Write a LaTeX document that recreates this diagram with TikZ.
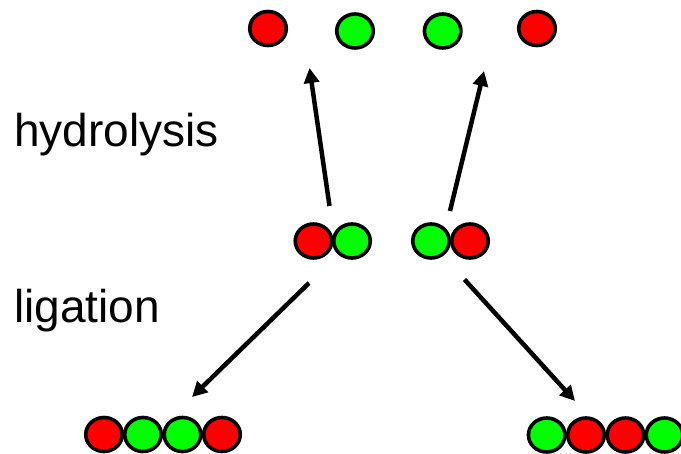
\documentclass[tikz,border=0pt]{standalone}
\usepackage{fontspec}
\setmainfont{Liberation Sans}
\usetikzlibrary{arrows.meta}
\definecolor{bead red}{RGB}{255,0,0}
\definecolor{bead green}{RGB}{0,255,0}
\tikzset{
  bead/.style={ellipse, draw=black, line width=3.6pt, minimum width=36.5pt, minimum height=34pt, inner sep=0pt},
  redbead/.style={bead, fill=bead red},
  greenbead/.style={bead, fill=bead green},
  flow/.style={line width=4.5pt, -{Triangle[length=15pt,width=15pt]}},
  label/.style={font=\fontsize{46}{50}\selectfont, anchor=base west, inner sep=0pt}
}
\usetikzlibrary{shapes.geometric}
\begin{document}
\begin{tikzpicture}[x=1pt,y=-1pt]
\useasboundingbox (0,0) rectangle (681,454);

% monomers
\node[redbead]   (m1) at (268,28.5) {};
\node[greenbead] (m2) at (355,31) {};
\node[greenbead] (m3) at (442.7,31) {};
\node[redbead]   (m4) at (537,28.5) {};

% dimers
\node[redbead]   (d1) at (313.5,241) {};
\node[greenbead] (d2) at (352,241) {};
\node[greenbead] (d3) at (431,241) {};
\node[redbead]   (d4) at (470,241) {};

% tetramers
\node[redbead]   (a1) at (104,434.5) {};
\node[greenbead] (a2) at (143,434.5) {};
\node[greenbead] (a3) at (182.5,434.5) {};
\node[redbead]   (a4) at (222,434.5) {};

\node[greenbead] (b1) at (546.7,435) {};
\node[redbead]   (b2) at (586,435) {};
\node[redbead]   (b3) at (625.5,435) {};
\node[greenbead] (b4) at (664.5,435) {};

% arrow end points
\coordinate (h1s) at (329.5,206);
\coordinate (h1e) at (309.5,68);
\coordinate (h2s) at (450,211);
\coordinate (h2e) at (484,71);
\coordinate (l1s) at (309,283);
\coordinate (l1e) at (192,397);
\coordinate (l2s) at (464.5,279.5);
\coordinate (l2e) at (575,401);

\draw[flow] (h1s) -- (h1e);
\draw[flow] (h2s) -- (h2e);
\draw[flow] (l1s) -- (l1e);
\draw[flow] (l2s) -- (l2e);

% labels
\node[label] (hyd) at (14,146.7) {hydrolysis};
\node[label] (lig) at (14,323) {ligation};
\end{tikzpicture}
\end{document}
